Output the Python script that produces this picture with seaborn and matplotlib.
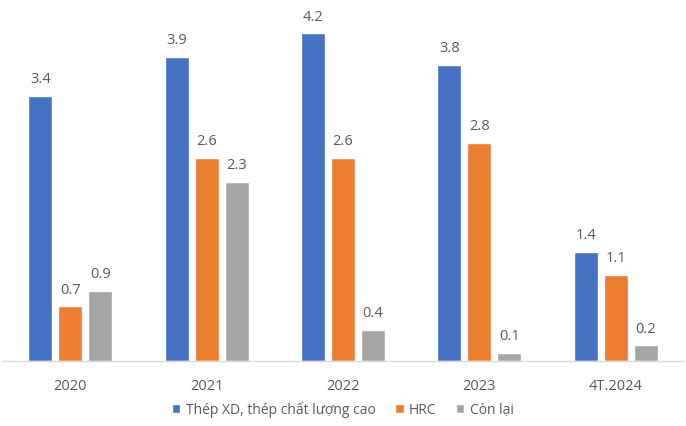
import pandas as pd
import matplotlib.pyplot as plt
import seaborn as sns

# --- data ---
years = ["2020", "2021", "2022", "2023", "4T.2024"]
thep_xd = [3.4, 3.9, 4.2, 3.8, 1.4]
hrc = [0.7, 2.6, 2.6, 2.8, 1.1]
con_lai = [0.9, 2.3, 0.4, 0.1, 0.2]
series = ["Thép XD, thép chất lượng cao", "HRC", "Còn lại"]
colors = ["#4472C4", "#ED7D31", "#A5A5A5"]

df = pd.DataFrame({
    "year": years * 3,
    "value": thep_xd + hrc + con_lai,
    "series": [series[0]] * 5 + [series[1]] * 5 + [series[2]] * 5,
})

sns.set_style("white")
plt.rcParams["font.family"] = ["Open Sans", "DejaVu Sans"]
text_col = "#595959"

fig = plt.figure(figsize=(6.86, 4.27), dpi=100)
ax = fig.add_axes([2 / 686, 1 - 362 / 427, 682 / 686, (362 - 11) / 427])

sns.barplot(data=df, x="year", y="value", hue="series", palette=colors,
            width=0.66, gap=0.2, saturation=1, ax=ax, legend=True)

for c in ax.containers:
    ax.bar_label(c, fmt="%.1f", padding=7, fontsize=10.5, color=text_col)

ax.set_xlim(-0.5, 4.5)
ax.set_ylim(0, 4.5)
ax.set_xlabel("")
ax.set_ylabel("")
ax.set_yticks([])
ax.tick_params(axis="x", length=0, pad=12, labelsize=10.5, labelcolor=text_col)
for s in ["top", "right", "left"]:
    ax.spines[s].set_visible(False)
ax.spines["bottom"].set_color("#D9D9D9")
ax.spines["bottom"].set_linewidth(1)

ax.legend(loc="center", bbox_to_anchor=(0.5, -0.137), ncol=3, frameon=False,
          fontsize=10, handlelength=0.6, handleheight=0.6, handletextpad=0.4,
          columnspacing=1.4, labelcolor=text_col)

fig.savefig("out.png", dpi=100)
